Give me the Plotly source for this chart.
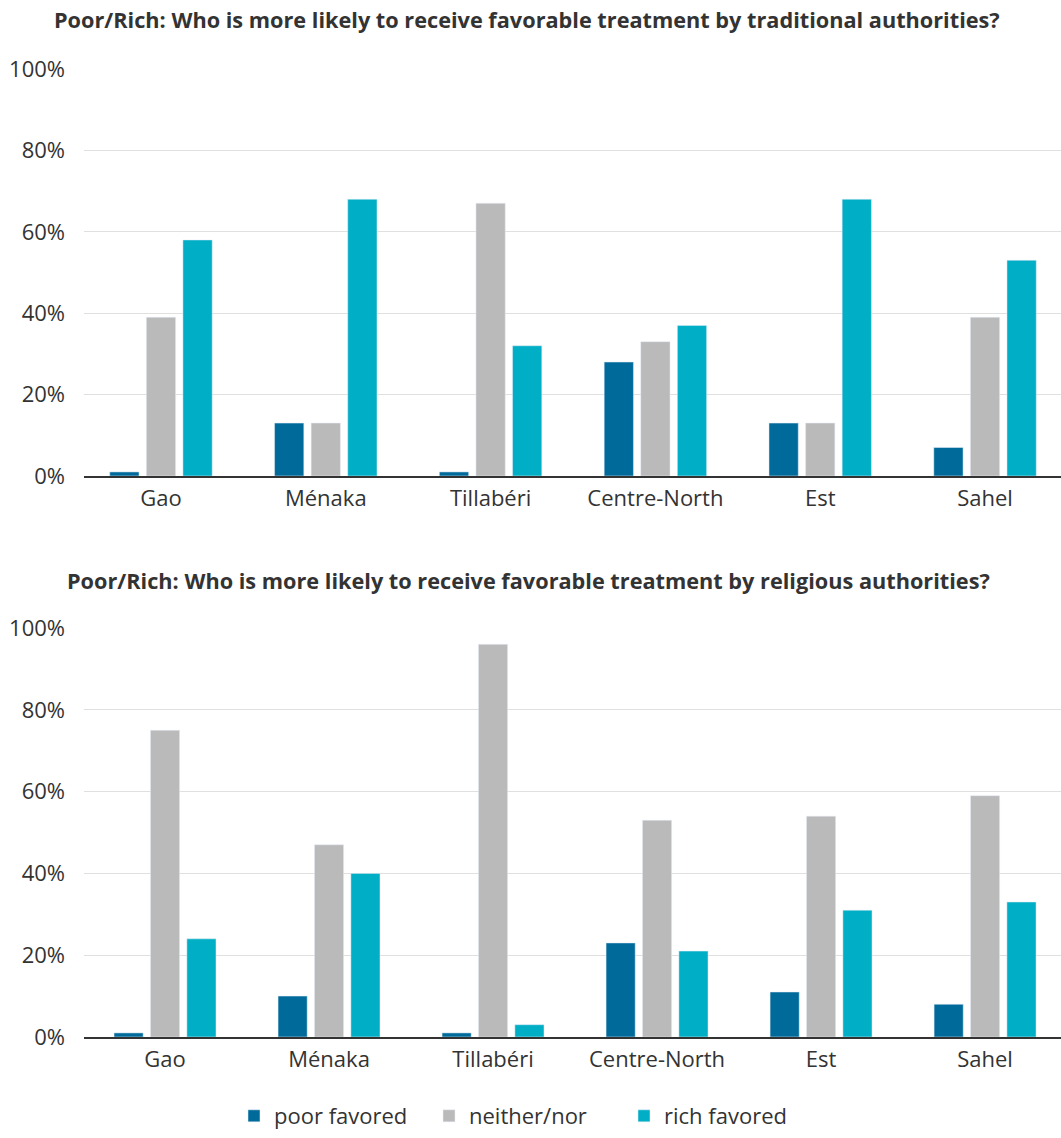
import plotly.graph_objects as go

categories = ["Gao", "Ménaka", "Tillabéri", "Centre-North", "Est", "Sahel"]
series_names = ["poor favored", "neither/nor", "rich favored"]

trad_poor = [1, 13, 1, 28, 13, 7]
trad_neither = [39, 13, 67, 33, 13, 39]
trad_rich = [58, 68, 32, 37, 68, 53]

rel_poor = [1, 10, 1, 23, 11, 8]
rel_neither = [75, 47, 96, 53, 54, 59]
rel_rich = [24, 40, 3, 21, 31, 33]

y_ticks = [0, 20, 40, 60, 80, 100]
y_ticktext = ["0%", "20%", "40%", "60%", "80%", "100%"]

title_top = "Poor/Rich: Who is more likely to receive favorable treatment by traditional authorities?"
title_bottom = "Poor/Rich: Who is more likely to receive favorable treatment by religious authorities?"

colors = ["#006B9B", "#BBBABB", "#00AEC6"]
FONT = "Open Sans"
TXT = "#333333"
W, H = 1061, 1138

fig = go.Figure()
top_data = [trad_poor, trad_neither, trad_rich]
bot_data = [rel_poor, rel_neither, rel_rich]
for i, name in enumerate(series_names):
    fig.add_trace(go.Bar(x=categories, y=top_data[i], name=name, marker_color=colors[i],
                         xaxis="x", yaxis="y", legendgroup=name, showlegend=True))
for i, name in enumerate(series_names):
    fig.add_trace(go.Bar(x=categories, y=bot_data[i], name=name, marker_color=colors[i],
                         xaxis="x2", yaxis="y2", legendgroup=name, showlegend=False))

def ydom(top_px, bot_px):
    return [1 - bot_px / H, 1 - top_px / H]

xcommon = dict(type="category", showgrid=False, showline=True,
               linecolor="#333333", linewidth=1.5, ticks="", automargin=False,
               tickfont=dict(family=FONT, size=22, color=TXT), ticklabelstandoff=2,
               domain=[84 / W, 1.0], zeroline=False)
ycommon = dict(range=[0, 100], tickvals=y_ticks, ticktext=y_ticktext, showgrid=True,
               gridcolor="#E0E0E0", gridwidth=1, zeroline=False, showline=False, ticks="",
               automargin=False,
               tickfont=dict(family=FONT, size=22, color=TXT), ticklabelstandoff=18)

fig.update_layout(
    width=W, height=H,
    margin=dict(l=0, r=0, t=0, b=0),
    paper_bgcolor="white", plot_bgcolor="white",
    barmode="group", bargap=0.334, bargroupgap=0.2,
    font=dict(family=FONT, color=TXT),
    xaxis=dict(**xcommon, range=[-0.467, 5.461], anchor="y"),
    yaxis=dict(**ycommon, domain=ydom(69, 476), anchor="x"),
    xaxis2=dict(**xcommon, range=[-0.494, 5.463], anchor="y2"),
    yaxis2=dict(**ycommon, domain=ydom(628, 1037), anchor="x2"),
    legend=dict(orientation="h", x=234 / W, xanchor="left", y=1 - 1116 / H, yanchor="middle",
                font=dict(family=FONT, size=22, color=TXT), itemwidth=30,
                entrywidth=150, entrywidthmode="pixels",
                traceorder="normal"),
    annotations=[
        dict(text="<b>" + title_top + "</b>", xref="paper", yref="paper", x=527 / W, y=1 - 20 / H,
             xanchor="center", yanchor="middle", showarrow=False,
             font=dict(family=FONT, size=21.7, color=TXT)),
        dict(text="<b>" + title_bottom + "</b>", xref="paper", yref="paper", x=528 / W, y=1 - 580 / H,
             xanchor="center", yanchor="middle", showarrow=False,
             font=dict(family=FONT, size=21.7, color=TXT)),
    ],
)

fig.write_html("out.html", config={"displayModeBar": False},
               post_script="document.body.style.margin='0';")
